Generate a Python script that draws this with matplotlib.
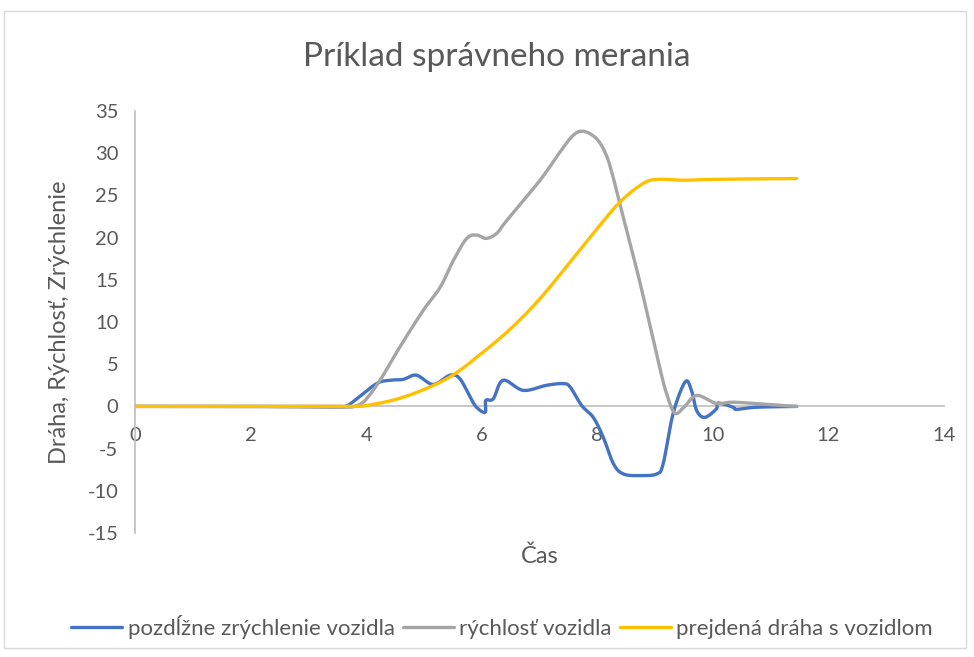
import numpy as np
import matplotlib
matplotlib.use("Agg")
import matplotlib.pyplot as plt
from matplotlib.patches import Rectangle

plt.rcParams['font.family'] = ['Lato', 'DejaVu Sans']
plt.rcParams['axes.unicode_minus'] = False

# --- data ---
acc_t = [0, 1, 2, 3, 3.5, 3.66, 3.84, 4.18, 4.41, 4.64, 4.87, 5.16, 5.45, 5.62, 5.8, 5.91, 6.06, 6.07, 6.2, 6.37,
         6.72, 7.12, 7.41, 7.53, 7.73, 7.93, 8.1, 8.28, 8.45, 8.74, 9.03, 9.14, 9.31, 9.52, 9.63,
         9.72, 9.86, 10.06, 10.09, 10.35, 10.41, 10.75, 11.45]
acc_v = [0, 0, 0, 0, 0, 0.05, 0.9, 2.7, 3.1, 3.2, 3.7, 2.6, 3.7, 3.3, 1.1, -0.1, -0.7, 0.7, 0.9, 3.1,
         1.9, 2.5, 2.7, 2.3, 0.1, -1.3, -3.6, -6.8, -8.0, -8.2, -8.0, -6.8, -0.9, 2.9, 1.9,
         -0.5, -1.3, -0.3, 0.4, -0.1, -0.35, -0.1, 0.0]

spd_t = [0, 1, 2, 3, 3.6, 3.8, 3.98, 4.24, 4.58, 4.99, 5.28, 5.51, 5.74, 5.91, 6.08, 6.26, 6.43, 7.01,
         7.35, 7.58, 7.76, 7.99, 8.16, 8.28, 8.39, 8.53, 8.65, 8.79, 9.08, 9.2, 9.34, 9.5, 9.72,
         10.06, 10.35, 11.0, 11.45]
spd_v = [0, 0, 0, -0.1, -0.1, 0.0, 0.7, 3.1, 7.0, 11.4, 14.1, 17.3, 19.9, 20.3, 19.9, 20.5, 22.0, 26.8,
         30.1, 32.1, 32.6, 31.7, 29.7, 27.0, 24.0, 20.3, 17.1, 13.2, 4.6, 1.5, -0.8, -0.1, 1.3,
         0.35, 0.5, 0.2, 0.0]

dist_t = [0, 1, 2, 3, 3.8, 4.0, 4.5, 5.0, 5.5, 6.0, 6.5, 7.0, 7.53, 7.93, 8.39, 8.79, 9.05, 9.5, 10.0, 11.45]
dist_v = [0, 0, 0, 0, 0, 0.1, 0.8, 2.0, 3.7, 6.3, 9.2, 12.7, 17.1, 20.5, 24.2, 26.4, 26.9, 26.8, 26.9, 27.0]

series_names = ["pozdĺžne zrýchlenie vozidla", "rýchlosť vozidla", "prejdená dráha s vozidlom"]
colors = ["#4472C4", "#A5A5A5", "#FFC000"]
x_ticks = list(range(0, 15, 2))
y_ticks = list(range(-15, 36, 5))


def smooth(x, y, n=12):
    """Catmull-Rom style smoothing (like Excel's smoothed line)."""
    x = np.asarray(x, float); y = np.asarray(y, float)
    px = np.concatenate([[2 * x[0] - x[1]], x, [2 * x[-1] - x[-2]]])
    py = np.concatenate([[2 * y[0] - y[1]], y, [2 * y[-1] - y[-2]]])
    ox, oy = [], []
    t = np.linspace(0, 1, n, endpoint=False)
    for i in range(1, len(px) - 2):
        p0, p1, p2, p3 = (np.array([px[j], py[j]]) for j in (i - 1, i, i + 1, i + 2))
        m1 = (p2 - p0) / 2 / 3
        m2 = (p3 - p1) / 2 / 3
        c1 = p1 + m1
        c2 = p2 - m2
        b = ((1 - t) ** 3)[:, None] * p1 + (3 * (1 - t) ** 2 * t)[:, None] * c1 + \
            (3 * (1 - t) * t ** 2)[:, None] * c2 + (t ** 3)[:, None] * p2
        ox.extend(b[:, 0]); oy.extend(b[:, 1])
    ox.append(x[-1]); oy.append(y[-1])
    return np.array(ox), np.array(oy)


W, H = 974, 657
fig = plt.figure(figsize=(W / 100, H / 100), dpi=100)
fig.patches.append(Rectangle((4 / W, 1 - 648 / H), (966 - 4) / W, (648 - 11) / H,
                             transform=fig.transFigure, fill=False, edgecolor="#D9D9D9", lw=1))

ax = fig.add_axes([135 / W, 1 - 533 / H, (944 - 135) / W, (533 - 111) / H])
ax.set_xlim(0, 14)
ax.set_ylim(-15, 35)

for (t, v), name, c in zip([(acc_t, acc_v), (spd_t, spd_v), (dist_t, dist_v)], series_names, colors):
    sx, sy = smooth(t, v)
    ax.plot(sx, sy, color=c, lw=2.4, label=name, solid_capstyle="round", zorder=3)

for s in ["top", "right"]:
    ax.spines[s].set_visible(False)
ax.spines["bottom"].set_position(("data", 0))
ax.spines["bottom"].set_color("#BFBFBF")
ax.spines["left"].set_color("#BFBFBF")
ax.spines["bottom"].set_linewidth(1.2)
ax.spines["left"].set_linewidth(1.2)
ax.set_xticks(x_ticks)
ax.set_yticks(y_ticks)
ax.tick_params(axis="x", length=0, pad=15, labelsize=14.5, labelcolor="#595959")
ax.tick_params(axis="y", length=0, pad=12, labelsize=14.5, labelcolor="#595959")

fig.text(497 / W, 1 - 57 / H, "Príklad správneho merania", ha="center", va="center",
         fontsize=24, color="#595959")
fig.text(60 / W, 1 - 322 / H, "Dráha, Rýchlosť, Zrýchlenie", rotation=90, ha="center", va="center",
         fontsize=17, color="#595959")
fig.text(540 / W, 1 - 556 / H, "Čas", ha="center", va="center", fontsize=17, color="#595959")

leg = fig.legend(loc="center", bbox_to_anchor=(502 / W, 1 - 627 / H), ncol=3, frameon=False,
                 fontsize=16, handlelength=2.3, handletextpad=0.25, columnspacing=0.35,
                 labelcolor="#595959")

fig.savefig("out.png", dpi=100)
